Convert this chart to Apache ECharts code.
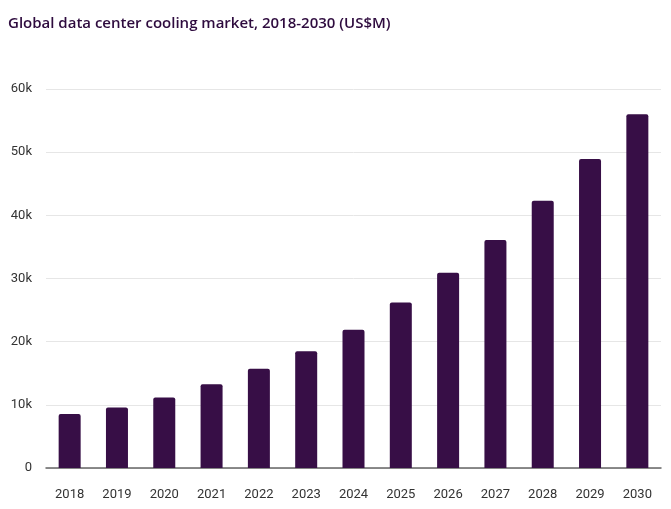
<!DOCTYPE html>
<html><head><meta charset="utf-8">
<script src="https://cdn.jsdelivr.net/npm/echarts@6/dist/echarts.min.js"></script>
<style>html,body{margin:0;padding:0;background:#fff}#c{width:671px;height:509px}</style>
</head><body><div id="c"></div>
<script>
const categories = ['2018','2019','2020','2021','2022','2023','2024','2025','2026','2027','2028','2029','2030'];
const marketValues = [8560, 9570, 11150, 13250, 15700, 18500, 21900, 26200, 30900, 36100, 42300, 48900, 56000];
const yTicks = [0, 10000, 20000, 30000, 40000, 50000, 60000];
const titleText = 'Global data center cooling market, 2018-2030 (US$M)';

const chart = echarts.init(document.getElementById('c'), null, {renderer:'canvas'});
chart.setOption({
  animation:false,
  title:{text:titleText,left:3,top:11,textStyle:{fontFamily:'Open Sans',fontWeight:600,fontSize:15,color:'#2e0b3e'}},
  grid:{left:46,right:10,top:89,bottom:41,containLabel:false},
  xAxis:{type:'category',data:categories,
    axisLine:{lineStyle:{color:'#666',width:1.5}},axisTick:{show:false},
    axisLabel:{color:'#333',fontFamily:'Roboto',fontSize:13,margin:20}},
  yAxis:{type:'value',min:yTicks[0],max:yTicks[yTicks.length-1],interval:10000,
    axisLine:{show:false},axisTick:{show:false},
    splitLine:{lineStyle:{color:'#e6e6e6',width:1}},
    axisLabel:{color:'#333',fontFamily:'Roboto',fontSize:13,margin:14,
      formatter:v=>v===0?'0':(v/1000)+'k'}},
  series:[{type:'bar',data:marketValues,barWidth:22,
    itemStyle:{color:'#370e46',borderRadius:[2,2,0,0]}}]
});
</script></body></html>
